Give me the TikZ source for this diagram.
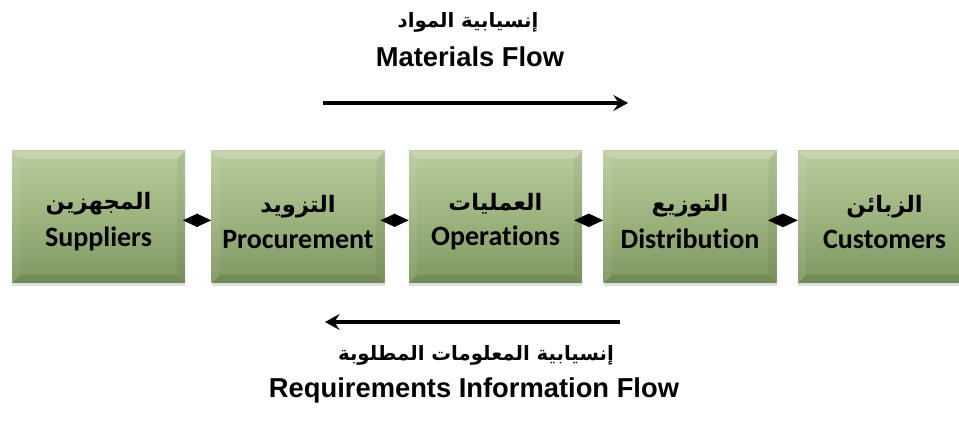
\documentclass[tikz,border=0pt]{standalone}
\usepackage{fontspec}
\setmainfont{Liberation Sans}
\newfontfamily\arabicfont[Script=Arabic]{DejaVu Sans}
\newfontfamily\boxfont[Ligatures=NoCommon]{Carlito}
\TeXXeTstate=1
\usetikzlibrary{arrows.meta,shadows,calc}
\definecolor{gtop}{HTML}{B9CC9D}
\definecolor{gmid}{HTML}{9DB47F}
\definecolor{gbot}{HTML}{7E975F}
\tikzset{
  sbox/.style={rectangle, minimum width=129.75pt, minimum height=99pt, inner sep=0pt,
    top color=gtop, bottom color=gbot, middle color=gmid,
    drop shadow={shadow xshift=0pt, shadow yshift=-2pt, opacity=0.25},
    path picture={
      \fill[white,opacity=0.2] (path picture bounding box.north west) -- (path picture bounding box.north east)
        -- ([xshift=-6pt,yshift=-6pt]path picture bounding box.north east) -- ([xshift=6pt,yshift=-6pt]path picture bounding box.north west) -- cycle;
      \fill[white,opacity=0.07] (path picture bounding box.north west) -- (path picture bounding box.south west)
        -- ([xshift=6pt,yshift=6pt]path picture bounding box.south west) -- ([xshift=6pt,yshift=-6pt]path picture bounding box.north west) -- cycle;
      \fill[black,opacity=0.05] (path picture bounding box.north east) -- (path picture bounding box.south east)
        -- ([xshift=-6pt,yshift=6pt]path picture bounding box.south east) -- ([xshift=-6pt,yshift=-6pt]path picture bounding box.north east) -- cycle;
      \fill[black,opacity=0.09] (path picture bounding box.south west) -- (path picture bounding box.south east)
        -- ([xshift=-6pt,yshift=6pt]path picture bounding box.south east) -- ([xshift=6pt,yshift=6pt]path picture bounding box.south west) -- cycle;
    }},
  btxt/.style={inner sep=0pt, align=center},
  artxt/.style={font=\arabicfont\bfseries\fontsize{14.8}{17}\selectfont},
  entxt/.style={font=\bfseries\fontsize{20.5}{24}\selectfont},
  dconn/.style={line width=0.6pt, arrows={Triangle[length=11pt,width=10pt]-Triangle[length=11pt,width=10pt]}},
  flow/.style={line width=2.3pt, -{Stealth[length=11pt,width=12pt,inset=4pt]}}
}
\newcommand{\boxtext}[2]{{\arabicfont\bfseries\fontsize{17}{20}\selectfont\beginR #1\endR}\\[8pt]{\boxfont\bfseries\fontsize{21}{24}\selectfont #2}}
\begin{document}
\begin{tikzpicture}[x=0.75pt,y=-0.75pt]
\useasboundingbox[fill=white] (0,0) rectangle (959,423);
% boxes
\node[sbox] (sup) at (98.5,217) {};
\node[sbox] (pro) at (298,217) {};
\node[sbox] (ope) at (495.5,217) {};
\node[sbox] (dis) at (690,217) {};
\node[sbox] (cus) at (884.5,217) {};
\node[btxt] (supt) at ([yshift=-3.5pt]sup.center) {\boxtext{المجهزين}{Suppliers}};
\node[btxt] (prot) at ([yshift=-3.5pt]pro.center) {\boxtext{التزويد}{Procurement}};
\node[btxt] (opet) at ([yshift=-3.5pt]ope.center) {\boxtext{العمليات}{Operations}};
\node[btxt] (dist) at ([yshift=-3.5pt]dis.center) {\boxtext{التوزيع}{Distribution}};
\node[btxt] (cust) at ([yshift=-3.5pt]cus.center) {\boxtext{الزبائن}{Customers}};
% connectors
\draw[dconn] ([xshift=-1.8pt,yshift=-2.5pt]sup.east) -- ([yshift=-2.5pt]pro.west);
\draw[dconn] ([xshift=-3.2pt,yshift=-2.5pt]pro.east) -- ([yshift=-2.5pt]ope.west);
\draw[dconn] ([xshift=-6pt,yshift=-2.5pt]ope.east) -- ([yshift=-2.5pt]dis.west);
\draw[dconn] ([xshift=-6.5pt,yshift=-2.5pt]dis.east) -- ([yshift=-2.5pt]cus.west);
% flow labels
\node[artxt] (mfar) at (468,22) {\beginR إنسيابية المواد\endR};
\node[entxt] (mfen) at (470,57) {Materials Flow};
\coordinate (mfa) at (323,103);
\coordinate (mfb) at (628,103);
\draw[flow] (mfa) -- (mfb);
\coordinate (rfa) at (620,322);
\coordinate (rfb) at (325,322);
\draw[flow] (rfa) -- (rfb);
\node[artxt] (rfar) at (476,355) {\beginR إنسيابية المعلومات المطلوبة\endR};
\node[entxt] (rfen) at (474,390) {Requirements Information Flow};
\end{tikzpicture}
\end{document}
